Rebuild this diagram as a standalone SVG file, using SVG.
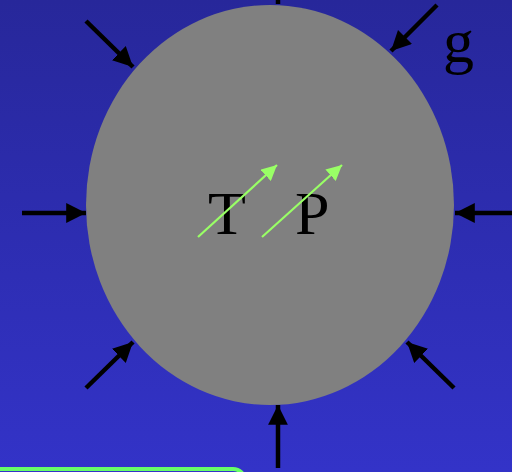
<svg xmlns="http://www.w3.org/2000/svg" width="512" height="472" viewBox="0 0 512 472">
  <defs>
    <linearGradient id="bg" x1="0" y1="0" x2="0" y2="1">
      <stop offset="0" stop-color="#27279a"/>
      <stop offset="1" stop-color="#3333c8"/>
    </linearGradient>
    <marker id="blk" viewBox="0 0 10 10" refX="10" refY="5" markerWidth="4.4" markerHeight="4.4" orient="auto" markerUnits="strokeWidth">
      <path d="M0,0 L10,5 L0,10 Z" fill="#000"/>
    </marker>
    <marker id="grn" viewBox="0 0 10 10" refX="10" refY="5" markerWidth="7" markerHeight="7" orient="auto" markerUnits="strokeWidth">
      <path d="M0,0 L10,5 L0,10 Z" fill="#99ff66"/>
    </marker>
    <style>
      .push { stroke: #000; stroke-width: 4.5; fill: none; marker-end: url(#blk); }
      .flow { stroke: #99ff66; stroke-width: 2.2; fill: none; marker-end: url(#grn); }
      .lbl { font-family: "Liberation Serif", "Times New Roman", serif; font-size: 62px; fill: #000; }
    </style>
  </defs>
  <rect x="0" y="0" width="512" height="472" fill="url(#bg)"/>
  <rect x="-20" y="469" width="265" height="40" rx="12" fill="none" stroke="#66ff66" stroke-width="4"/>
  <g id="body">
    <ellipse cx="270" cy="205" rx="184" ry="200" fill="#808080"/>
  </g>
  <g id="connectors">
    <line class="push" x1="278" y1="-40" x2="278" y2="4"/>
    <line class="push" x1="86" y1="21" x2="133" y2="67"/>
    <line class="push" x1="437" y1="5" x2="391" y2="51"/>
    <line class="push" x1="22" y1="213" x2="86" y2="213"/>
    <line class="push" x1="512" y1="213" x2="455" y2="213"/>
    <line class="push" x1="86" y1="388" x2="133" y2="342"/>
    <line class="push" x1="454" y1="388" x2="407" y2="342"/>
    <line class="push" x1="278" y1="468" x2="278" y2="405"/>
  </g>
  <g id="labels">
    <text class="lbl" x="208" y="234">T</text>
    <text class="lbl" x="295" y="234">P</text>
    <text class="lbl" x="443" y="62">g</text>
  </g>
  <g id="flows">
    <line class="flow" x1="198" y1="237" x2="277" y2="165"/>
    <line class="flow" x1="262" y1="237" x2="342" y2="165"/>
  </g>
</svg>
